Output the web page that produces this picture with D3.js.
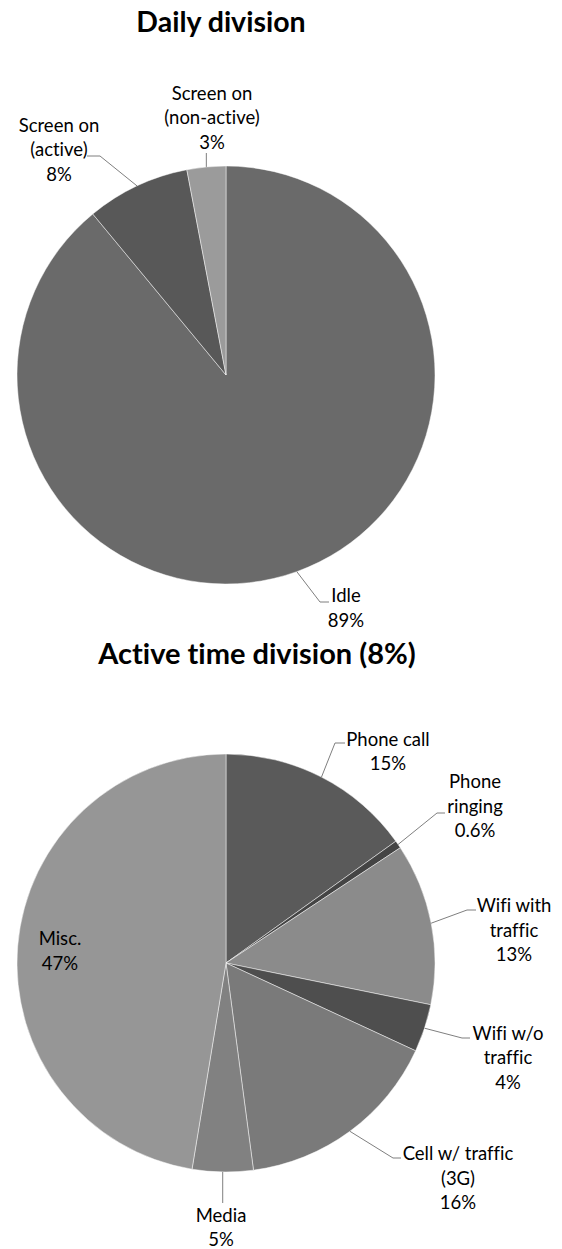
<!DOCTYPE html>
<html>
<head>
<meta charset="utf-8">
<script src="https://cdn.jsdelivr.net/npm/d3@7"></script>
<style>
html,body{margin:0;padding:0;background:#fff;}
svg{display:block;}
text{font-family:Lato,"Open Sans",sans-serif;fill:#000;font-variant-ligatures:none;}
</style>
</head>
<body>
<svg id="chart" width="562" height="1249"></svg>
<script>
// ---- data ----
const dailyCategories = ["Idle", "Screen on (active)", "Screen on (non-active)"];
const dailyValues = [89, 8, 3];
const dailyLabels = [["Idle", "89%"], ["Screen on", "(active)", "8%"], ["Screen on", "(non-active)", "3%"]];

const activeCategories = ["Phone call", "Phone ringing", "Wifi with traffic", "Wifi w/o traffic", "Cell w/ traffic (3G)", "Media", "Misc."];
const activeValues = [15.1, 0.6, 12.5, 3.7, 16.0, 4.7, 47.4];
const activeLabels = [["Phone call", "15%"], ["Phone", "ringing", "0.6%"], ["Wifi with", "traffic", "13%"], ["Wifi w/o", "traffic", "4%"], ["Cell w/ traffic", "(3G)", "16%"], ["Media", "5%"], ["Misc.", "47%"]];

const titles = ["Daily division", "Active time division (8%)"];

// ---- styles / layout ----
const dailyColors = ["#6a6a6a", "#585858", "#9b9b9b"];
const activeColors = ["#5a5a5a", "#444444", "#8b8b8b", "#4e4e4e", "#7a7a7a", "#818181", "#969696"];

// label layout: text centre x, first baseline, leader elbow/end points
const dailyLayout = [
  {x: 346, y: 602, pts: [[320, 602], [329, 602]]},
  {x: 59, y: 131.5, pts: [[100, 156], [87, 156]]},
  {x: 212, y: 99.5, pts: [[null, 153]]}
];
const activeLayout = [
  {x: 388, y: 745.5, pts: [[335, 743], [345, 743]]},
  {x: 475, y: 788, pts: [[437, 813], [445, 813]]},
  {x: 514, y: 912, pts: [[467, 910], [476, 910]]},
  {x: 508, y: 1039.5, pts: [[462, 1038], [470, 1038]]},
  {x: 458, y: 1160, pts: [[393, 1158], [401, 1158]]},
  {x: 221, y: 1221.5, pts: [[null, 1203]]},
  {x: 60, y: 945, pts: null}
];

const svg = d3.select("#chart");
const R = 209;
const lineH = 24.7;

function drawPie(cfg) {
  const g = svg.append("g").attr("transform", `translate(${cfg.cx},${cfg.cy})`);
  const pie = d3.pie().sort(null).value(d => d)(cfg.values);
  const arc = d3.arc().innerRadius(0).outerRadius(R);
  g.selectAll("path.slice").data(pie).join("path")
    .attr("class", "slice")
    .attr("d", arc)
    .attr("fill", (d, i) => cfg.colors[i])
    .attr("stroke", "#ffffff")
    .attr("stroke-width", 0.6)
    .attr("stroke-opacity", 0.8);

  pie.forEach((d, i) => {
    const lay = cfg.layout[i];
    const mid = (d.startAngle + d.endAngle) / 2;
    const sx = cfg.cx + Math.sin(mid) * R;
    const sy = cfg.cy - Math.cos(mid) * R;
    if (lay.pts) {
      const pts = [[sx, sy]].concat(lay.pts.map(p => [p[0] === null ? sx : p[0], p[1]]));
      svg.append("path")
        .attr("d", d3.line()(pts))
        .attr("fill", "none")
        .attr("stroke", "#7f7f7f")
        .attr("stroke-width", 1);
    }
    const t = svg.append("text")
      .attr("text-anchor", "middle")
      .attr("font-size", 18.5);
    cfg.labels[i].forEach((s, k) => {
      t.append("tspan").attr("x", lay.x).attr("y", lay.y + k * lineH).text(s);
    });
  });

  svg.append("text")
    .attr("x", cfg.tx).attr("y", cfg.ty)
    .attr("text-anchor", "middle")
    .attr("font-size", cfg.tsize)
    .attr("font-weight", "bold")
    .text(cfg.title);
}

drawPie({cx: 226, cy: 375, values: dailyValues, colors: dailyColors, layout: dailyLayout, labels: dailyLabels, title: titles[0], tx: 221, ty: 32, tsize: 28.5});
drawPie({cx: 226, cy: 963, values: activeValues, colors: activeColors, layout: activeLayout, labels: activeLabels, title: titles[1], tx: 257, ty: 664, tsize: 29});
</script>
</body>
</html>
